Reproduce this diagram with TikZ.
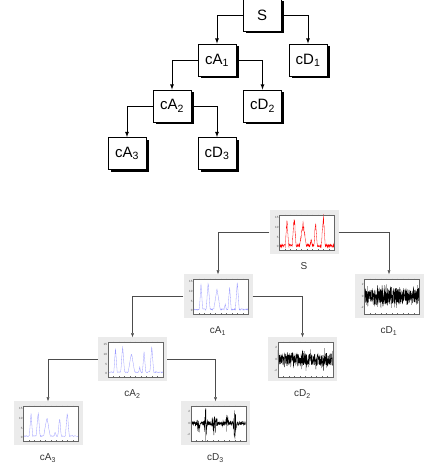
\documentclass[tikz,border=0pt]{standalone}
\usepackage{fontspec}
\setmainfont{Liberation Sans}
\usetikzlibrary{arrows.meta}
\usetikzlibrary{shadows}
\usetikzlibrary{calc}
\tikzset{>=latex}
\colorlet{panelcol}{black!8}
\colorlet{linkcol}{black!70}
\colorlet{approxcol}{blue!40!white}
\colorlet{framecol}{black!60}
\tikzstyle{coef}=[draw,thick,fill=white,minimum width=38pt,minimum height=32pt,inner sep=0pt,
  font=\fontsize{15}{15}\selectfont,drop shadow={shadow xshift=2.5pt,shadow yshift=-2.5pt,fill=black,opacity=1}]
\tikzstyle{panel}=[fill=panelcol,minimum width=69pt,minimum height=44pt,inner sep=0pt]
\tikzstyle{caption}=[font=\fontsize{10}{10}\selectfont,text=black!80,inner sep=0pt]
\tikzstyle{ticklbl}=[font=\fontsize{3}{3}\selectfont,anchor=east,inner sep=0.6pt,text=black!70]
\tikzset{declare function={bump(\x,\c,\w)=max(0,1-abs(\x-\c)/\w);
  pk(\x)=14*bump(\x,0.14,0.03)+15*bump(\x,0.27,0.035)+11*bump(\x,0.43,0.06)
        +3*bump(\x,0.58,0.02)+12*bump(\x,0.66,0.03)+15*bump(\x,0.80,0.035);}}

% one small matlab-like plot inside a panel node
% #1 panel, #2 colour, #3 ymin, #4 ymax, #5 signal, #6 ticks, #7 samples
\newcommand\panelplot[7]{%
  \begin{scope}[shift={(#1.south west)}]
    \fill[white] (10,5) rectangle (65,40);
    \foreach \t in {#6}
      \node[ticklbl] at (10,{5+35*(\t-(#3))/((#4)-(#3))}) {\t};
    \begin{scope}
      \clip (10,5) rectangle (65,40);
      \draw[#2,line width=0.3pt]
        plot[domain=0:1,samples=#7] ({10+55*\x},{5+35*((#5)-(#3))/((#4)-(#3))});
    \end{scope}
    \foreach \k in {1,...,9}
      \draw[framecol,line width=0.2pt] ({10+5.5*\k},5) -- ++(0,1) ({10+5.5*\k},40) -- ++(0,-1);
    \draw[framecol,line width=0.25pt] (10,5) rectangle (65,40);
  \end{scope}}

\begin{document}
\begin{tikzpicture}[x=1pt,y=1pt]
  \useasboundingbox (0,0) rectangle (430,470);
  \pgfmathsetseed{42}

  % tree of coefficients
  \node[coef] (s)   at (262,455)   {S};
  \node[coef] (ca1) at (217,410)   {cA\textsubscript{1}};
  \node[coef] (cd1) at (308,410)   {cD\textsubscript{1}};
  \node[coef] (ca2) at (172,364)   {cA\textsubscript{2}};
  \node[coef] (cd2) at (262.5,364) {cD\textsubscript{2}};
  \node[coef] (ca3) at (127,316.5) {cA\textsubscript{3}};
  \node[coef] (cd3) at (217,316.5) {cD\textsubscript{3}};

  \draw[thick,->] (s.west) -| (ca1.north);
  \draw[thick,->] (s.east) -| (cd1.north);
  \draw[thick,->] (ca1.west) -| (ca2.north);
  \draw[thick,->] (ca1.east) -| (cd2.north);
  \draw[thick,->] (ca2.west) -| (ca3.north);
  \draw[thick,->] (ca2.east) -| (cd3.north);

  % tree of signals
  \node[panel] (ps)   at (304,237.5)  {};
  \node[panel] (pca1) at (218,173.5)  {};
  \node[panel] (pcd1) at (389,173.5)  {};
  \node[panel] (pca2) at (132.5,110.5) {};
  \node[panel] (pcd2) at (302.5,110.5) {};
  \node[panel] (pca3) at (48,46.5)    {};
  \node[panel] (pcd3) at (215.5,46.5) {};

  \panelplot{ps}{red}{-1.5}{16.5}{pk(\x)+0.6+0.8*rand+0.15*pk(\x)*rand}{0,5,10,15}{280}
  \panelplot{pca1}{approxcol}{-1.5}{16.5}{0.95*pk(\x)+0.7+0.4*rand}{0,5,10,15}{180}
  \panelplot{pca2}{approxcol}{-1.5}{16.5}{0.9*pk(\x)+0.8+0.3*rand}{0,5,10,15}{130}
  \panelplot{pca3}{approxcol}{-1.5}{16.5}{0.85*pk(\x)+0.9+0.3*rand}{0,5,10,15}{100}
  \panelplot{pcd1}{black}{-3}{3}{1.4*rand+1.4*rand*rand*rand}{-2,0,2}{500}
  \panelplot{pcd2}{black}{-3}{3}{1.1*rand+1.4*rand*rand*rand}{-2,0,2}{420}
  \panelplot{pcd3}{black}{-3}{3}{(0.3+0.2*pk(\x))*rand}{-2,0,2}{320}

  \node[caption,below=8pt] (ls)   at (ps.south)   {S};
  \node[caption,below=8pt] (lca1) at (pca1.south) {cA\textsubscript{1}};
  \node[caption,below=8pt] (lcd1) at (pcd1.south) {cD\textsubscript{1}};
  \node[caption,below=8pt] (lca2) at (pca2.south) {cA\textsubscript{2}};
  \node[caption,below=8pt] (lcd2) at (pcd2.south) {cD\textsubscript{2}};
  \node[caption,below=8pt] (lca3) at (pca3.south) {cA\textsubscript{3}};
  \node[caption,below=8pt] (lcd3) at (pcd3.south) {cD\textsubscript{3}};

  \draw[linkcol,-{Latex[length=4pt,width=3pt]}] (ps.west) -| (pca1.north);
  \draw[linkcol,-{Latex[length=4pt,width=3pt]}] (ps.east) -| (pcd1.north);
  \draw[linkcol,-{Latex[length=4pt,width=3pt]}] (pca1.west) -| (pca2.north);
  \draw[linkcol,-{Latex[length=4pt,width=3pt]}] (pca1.east) -| (pcd2.north);
  \draw[linkcol,-{Latex[length=4pt,width=3pt]}] (pca2.west) -| (pca3.north);
  \draw[linkcol,-{Latex[length=4pt,width=3pt]}] (pca2.east) -| (pcd3.north);
\end{tikzpicture}
\end{document}
